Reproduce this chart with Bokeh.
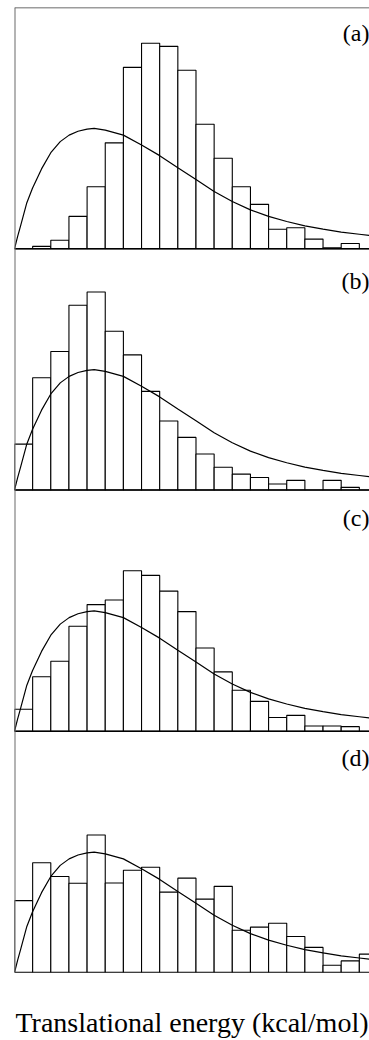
from bokeh.plotting import figure
from bokeh.models import Range1d, Span, LinearAxis, FixedTicker
from bokeh.core.properties import value
from bokeh.embed import file_html
from bokeh.resources import INLINE

# ---------------- data ----------------
PANELS = ["(a)", "(b)", "(c)", "(d)"]
BIN_EDGES = list(range(21))          # 20 equal energy bins
COUNTS_A = [0, 1.0, 3.5, 13.4, 25.7, 43.9, 75.2, 85.2, 83.9, 74.0,
            51.6, 37.5, 25.7, 18.4, 8.1, 8.7, 4.0, 0.4, 2.2, 0]
COUNTS_B = [19.0, 46.5, 57.4, 76.6, 82.1, 65.8, 56.0, 40.9, 28.6, 21.8,
            14.9, 9.4, 6.6, 5.2, 2.5, 4.0, 0, 4.0, 1.1, 0]
COUNTS_C = [9.1, 22.6, 29.0, 43.5, 52.5, 54.4, 66.5, 64.6, 58.1, 49.6,
            34.5, 24.6, 17.0, 12.4, 5.7, 6.6, 2.2, 2.2, 1.9, 0]
COUNTS_D = [29.8, 45.5, 39.8, 37.0, 57.0, 37.1, 42.4, 43.6, 33.3, 39.1,
            30.4, 35.7, 17.5, 18.8, 20.4, 14.9, 10.4, 3.0, 4.8, 7.6]
CURVE_X = [0, 0.17, 0.35, 0.68, 0.99, 1.49, 2.0, 2.52, 3.01, 3.5, 4.0, 4.39,
           5.0, 6.0, 7.0, 8.0, 9.0, 10.0, 11.0, 12.0, 13.0, 14.0, 15.0,
           16.0, 17.0, 18.0, 19.0, 20.0]
CURVE_Y = [0, 5.0, 9.9, 19.1, 25.1, 33.1, 39.8, 44.4, 47.1, 48.7, 49.6, 49.9,
           49.2, 47.1, 43.0, 38.6, 33.6, 28.7, 23.7, 19.6, 16.1, 13.4, 11.3,
           9.5, 8.1, 6.9, 6.0, 5.1]
X_LABEL = "Translational energy (kcal/mol)"

# ---------------- layout / style ----------------
W, H = 369, 1040
TOP, BOTTOM = 7, 66
FRAME_H = H - TOP - BOTTOM
PANEL_SPAN = 100.0                   # data units per panel
X_END = 19.56
LABEL_DROP_PX = [25.5, 32.0, 28.5, 27.0]
SERIF = "Liberation Serif"

p = figure(width=W, height=H, output_backend="svg", toolbar_location=None,
           x_range=Range1d(0, X_END), y_range=Range1d(0, 4 * PANEL_SPAN),
           x_axis_location=None, y_axis_location=None,
           min_border_left=14, min_border_right=0, min_border_top=TOP,
           min_border_bottom=BOTTOM)
p.outline_line_color = None
p.background_fill_color = "white"
p.border_fill_color = "white"
for g in p.grid:
    g.visible = False

px_per_unit = FRAME_H / (4 * PANEL_SPAN)
series = [COUNTS_A, COUNTS_B, COUNTS_C, COUNTS_D]
lab_x, lab_y = [], []
for k, counts in enumerate(series):
    off = (3 - k) * PANEL_SPAN
    p.quad(left=BIN_EDGES[:-1], right=BIN_EDGES[1:],
           bottom=[off] * len(counts), top=[off + c for c in counts],
           fill_color="white", line_color="black", line_width=1.1)
    p.line(CURVE_X, [off + v for v in CURVE_Y], line_color="black",
           line_width=1.2)
    p.add_layout(Span(location=off, dimension="width", line_color="black",
                      line_width=1.4))
    lab_x.append(X_END)
    lab_y.append(off + PANEL_SPAN - LABEL_DROP_PX[k] / px_per_unit)

p.text(x=lab_x, y=lab_y, text=PANELS, text_align="right",
       text_baseline="alphabetic", text_font=value(SERIF),
       text_font_size="24px", text_color="black")

p.add_layout(Span(location=4 * PANEL_SPAN, dimension="width",
                  line_color="#3a3a3a", line_width=1.5))
p.add_layout(Span(location=0, dimension="height", line_color="#6b6b6b",
                  line_width=2))

ax = LinearAxis(ticker=FixedTicker(ticks=[]), axis_label=X_LABEL)
ax.axis_line_color = None
ax.major_tick_line_color = None
ax.minor_tick_line_color = None
ax.major_tick_out = 0
ax.major_tick_in = 0
ax.major_label_text_font_size = "0px"
ax.major_label_standoff = 0
ax.axis_label_standoff = 34
ax.axis_label_text_font = SERIF
ax.axis_label_text_font_size = "28px"
ax.axis_label_text_font_style = "normal"
ax.axis_label_text_color = "black"
p.add_layout(ax, "below")

open("out.html", "w").write(file_html(p, INLINE))
